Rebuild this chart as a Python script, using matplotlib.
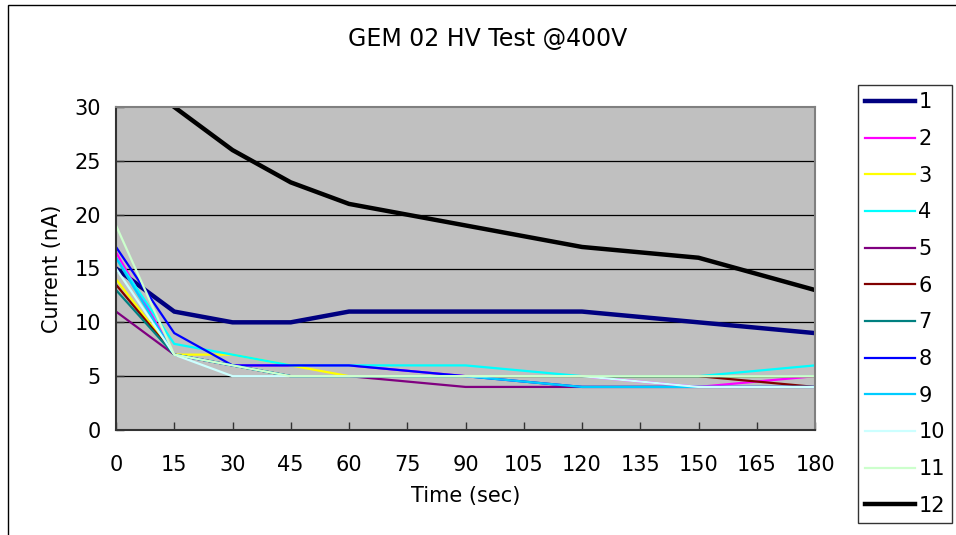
import matplotlib
matplotlib.use("Agg")
import matplotlib.pyplot as plt
import numpy as np
from matplotlib.patches import Rectangle

# time points (sec)
time = [0, 15, 30, 45, 60, 90, 120, 150, 180]

# current readings (nA) for each channel
s1 = [15, 11, 10, 10, 11, 11, 11, 10, 9]
s2 = [16.5, 7, 6, 6, 6, 5, 5, 4, 5]
s3 = [14, 7, 7, 6, 5, 5, 5, 5, 5]
s4 = [16, 8, 7, 6, 6, 6, 5, 5, 6]
s5 = [11, 7, 6, 5, 5, 4, 4, 4, 4]
s6 = [13.5, 7, 6, 5, 5, 5, 5, 5, 4]
s7 = [13, 7, 6, 5, 5, 5, 5, 5, 5]
s8 = [17, 9, 6, 6, 6, 5, 4, 4, 4]
s9 = [16, 7, 6, 5, 5, 5, 4, 4, 4]
s10 = [15, 7, 5, 5, 5, 5, 5, 4, 4]
s11 = [19, 7, 6, 5, 5, 5, 5, 5, 5]
s12 = [np.nan, 30, 26, 23, 21, 19, 17, 16, 13]

series = [s1, s2, s3, s4, s5, s6, s7, s8, s9, s10, s11, s12]
labels = [str(i) for i in range(1, 13)]
colors = ["#000080", "#FF00FF", "#FFFF00", "#00FFFF", "#800080", "#800000",
          "#008080", "#0000FF", "#00CCFF", "#CCFFFF", "#CCFFCC", "#000000"]
widths = [3.2, 1.6, 1.6, 1.6, 1.6, 1.6, 1.6, 1.6, 1.6, 1.6, 1.6, 3.2]

fig = plt.figure(figsize=(9.56, 5.35), dpi=100)
fig.patch.set_facecolor("white")
ax = fig.add_axes([116 / 956, 1 - 430 / 535, (815 - 116) / 956, (430 - 107) / 535])
ax.set_facecolor("#C0C0C0")

# outer chart border (cropped on right and bottom)
fig.patches.append(Rectangle((8 / 956, -0.05), 1.2, 1 - 5 / 535 + 0.05,
                             transform=fig.transFigure, fill=False,
                             edgecolor="black", linewidth=1.0))

for vals, lab, c, w in zip(series, labels, colors, widths):
    ax.plot(time, vals, color=c, linewidth=w, label=lab, solid_joinstyle="miter")

ax.set_xlim(0, 180)
ax.set_ylim(0, 30)
ax.set_xticks(np.arange(0, 181, 15))
ax.set_yticks(np.arange(0, 31, 5))
for y in range(5, 30, 5):
    ax.axhline(y, color="black", linewidth=0.9, zorder=0.5)

for side in ["top", "right"]:
    ax.spines[side].set_color("#808080")
    ax.spines[side].set_linewidth(1.5)
for side in ["left", "bottom"]:
    ax.spines[side].set_color("#333333")
    ax.spines[side].set_linewidth(1.5)

ax.tick_params(direction="in", length=6, width=1, color="#333333",
               labelsize=15)
ax.tick_params(axis="x", pad=18)
ax.tick_params(axis="y", pad=11)

ax.set_xlabel("Time (sec)", fontsize=15, labelpad=8)
ax.set_ylabel("Current (nA)", fontsize=15, labelpad=9)
fig.text(488 / 956, 1 - 39 / 535, "GEM 02 HV Test @400V", fontsize=17,
         ha="center", va="center")

leg = fig.legend(loc="upper left", bbox_to_anchor=(858 / 956, 1 - 85 / 535),
                 fontsize=15, frameon=True, fancybox=False, edgecolor="black",
                 handlelength=2.4, handletextpad=0.15, labelspacing=0.8,
                 borderpad=0.35, borderaxespad=0)
leg.get_frame().set_linewidth(1.0)

fig.savefig("out.png", dpi=100)
